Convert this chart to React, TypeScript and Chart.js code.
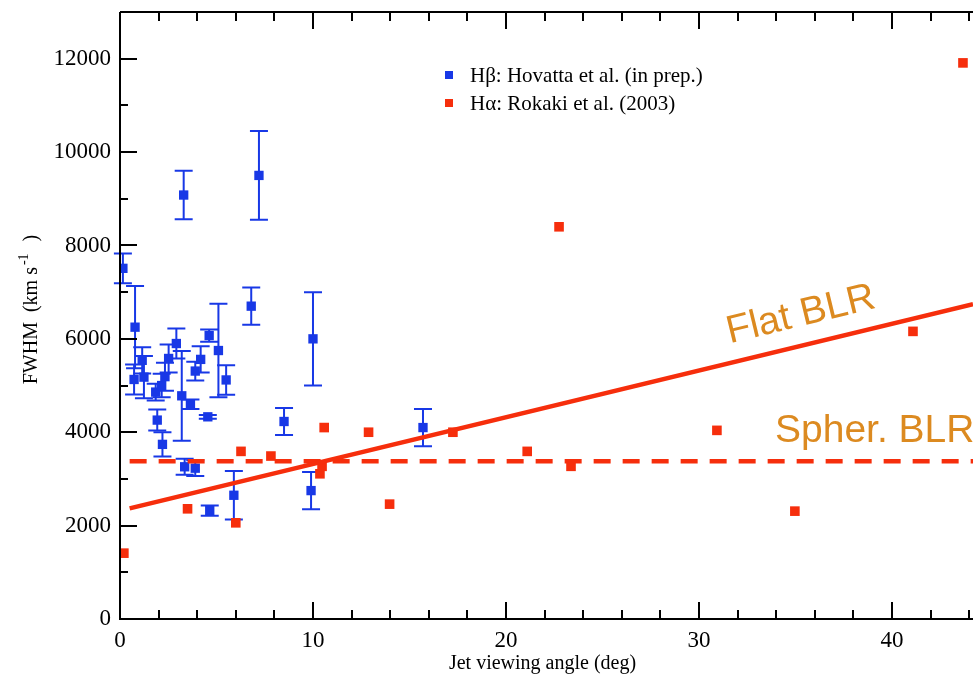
import React, { useEffect, useRef } from "react";
import { Chart, registerables } from "chart.js";

Chart.register(...registerables);

// Hβ (Hovatta et al.) — jet viewing angle (deg), FWHM (km/s), symmetric error
const hbAngle = [0.15, 0.78, 0.73, 1.15, 1.24, 1.85, 2.16, 2.33, 2.52, 2.92, 1.93, 2.2, 3.2, 3.3, 3.35, 3.9, 3.65, 3.9, 4.18, 4.62, 4.55, 5.1, 5.5, 4.65, 5.9, 6.8, 7.2, 8.5, 9.9, 10.0, 15.7];
const hbFwhm = [7510, 6250, 5130, 5540, 5180, 4860, 5000, 5190, 5580, 5900, 4260, 3740, 4780, 9080, 3260, 3230, 4600, 5310, 5560, 6070, 4330, 5750, 5120, 2320, 2650, 6700, 9500, 4230, 2750, 6000, 4100];
const hbErr = [320, 880, 320, 280, 450, 180, 250, 300, 300, 320, 225, 260, 960, 520, 170, 170, 100, 200, 280, 130, 40, 1000, 315, 110, 520, 400, 950, 290, 400, 1000, 400];

// Hα (Rokaki et al. 2003)
const haAngle = [0.2, 3.5, 6.0, 6.27, 7.82, 10.36, 10.47, 10.58, 12.88, 13.97, 17.25, 21.1, 22.75, 23.37, 30.93, 34.97, 41.09, 43.68];
const haFwhm = [1410, 2360, 2060, 3590, 3490, 3110, 3270, 4100, 4000, 2460, 4000, 3590, 8400, 3270, 4040, 2310, 6160, 11910];

// model lines
const flatAngle = [0.5, 44.2];
const flatFwhm = [2370, 6740];
const spherAngle = [0.5, 44.2];
const spherFwhm = [3380, 3380];

const xTicks = [0, 10, 20, 30, 40];
const yTicks = [0, 2000, 4000, 6000, 8000, 10000, 12000];

const legendLabels = ["Hβ: Hovatta et al. (in prep.)", "Hα: Rokaki et al. (2003)"];
const lineLabels = ["Flat BLR", "Spher. BLR"];
const xTitle = "Jet viewing angle (deg)";
const yTitleParts = ["FWHM  (km s", "-1", "  )"];

const BLUE = "#1838e6";
const RED = "#f62e0c";
const ORANGE = "#dc8a20";
const SERIF = "'Liberation Serif', 'Times New Roman', serif";
const SANS = "'Liberation Sans', Arial, sans-serif";

const decor = {
  id: "decor",
  beforeDatasetsDraw(chart: any) {
    const { ctx, scales } = chart;
    const xs = scales.x, ys = scales.y;
    ctx.save();
    ctx.strokeStyle = BLUE;
    ctx.lineWidth = 2;
    hbAngle.forEach((a, i) => {
      const e = hbErr[i];
      if (!e) return;
      const px = xs.getPixelForValue(a);
      const t = ys.getPixelForValue(hbFwhm[i] + e);
      const b = ys.getPixelForValue(hbFwhm[i] - e);
      ctx.beginPath();
      ctx.moveTo(px, t); ctx.lineTo(px, b);
      ctx.moveTo(px - 9, t); ctx.lineTo(px + 9, t);
      ctx.moveTo(px - 9, b); ctx.lineTo(px + 9, b);
      ctx.stroke();
    });
    ctx.restore();
  },
  afterDraw(chart: any) {
    const { ctx, chartArea, scales } = chart;
    const xs = scales.x, ys = scales.y;
    const { left, right, top, bottom } = chartArea;
    ctx.save();
    // frame
    ctx.strokeStyle = "#000";
    ctx.lineWidth = 2;
    ctx.beginPath();
    ctx.moveTo(left, top); ctx.lineTo(left, bottom); ctx.lineTo(right + 2, bottom);
    ctx.moveTo(left, top); ctx.lineTo(right + 2, top);
    ctx.stroke();
    // x ticks (inward, top and bottom)
    ctx.beginPath();
    for (let v = 0; v <= xs.max + 1e-9; v += 2) {
      const px = Math.round(xs.getPixelForValue(v));
      const len = v % 10 === 0 ? 17 : 9;
      ctx.moveTo(px, bottom); ctx.lineTo(px, bottom - len);
      ctx.moveTo(px, top); ctx.lineTo(px, top + len);
    }
    // y ticks
    for (let v = 0; v <= ys.max + 1e-9; v += 1000) {
      const py = Math.round(ys.getPixelForValue(v));
      const len = v % 2000 === 0 ? 17 : 8;
      ctx.moveTo(left, py); ctx.lineTo(left + len, py);
    }
    ctx.stroke();

    // legend
    const lx = left + 329;
    const ly = [top + 63, top + 91];
    const lc = [BLUE, RED];
    ctx.font = `21px ${SERIF}`;
    ctx.textBaseline = "middle";
    ctx.textAlign = "left";
    legendLabels.forEach((lab, i) => {
      ctx.fillStyle = lc[i];
      ctx.fillRect(lx - 4, ly[i] - 4, 8, 8);
      ctx.fillStyle = "#000";
      ctx.fillText(lab, lx + 21, ly[i] + 1);
    });

    // axis titles
    ctx.fillStyle = "#000";
    ctx.font = `20px ${SERIF}`;
    ctx.textAlign = "center";
    ctx.textBaseline = "alphabetic";
    ctx.fillText(xTitle, (left + right) / 2 - 4, 669);

    ctx.save();
    ctx.translate(37, (top + bottom) / 2 - 6);
    ctx.rotate(-Math.PI / 2);
    ctx.font = `20px ${SERIF}`;
    const w0 = ctx.measureText(yTitleParts[0]).width;
    ctx.font = `14px ${SERIF}`;
    const w1 = ctx.measureText(yTitleParts[1]).width;
    ctx.font = `20px ${SERIF}`;
    const w2 = ctx.measureText(yTitleParts[2]).width;
    let x0 = -(w0 + w1 + 4 + w2) / 2;
    ctx.textAlign = "left";
    ctx.fillText(yTitleParts[0], x0, 0);
    x0 += w0 + 2;
    ctx.font = `14px ${SERIF}`;
    ctx.fillText(yTitleParts[1], x0, -9);
    x0 += w1 + 2;
    ctx.font = `20px ${SERIF}`;
    ctx.fillText(yTitleParts[2], x0, 0);
    ctx.restore();

    // model line labels
    const p1x = xs.getPixelForValue(flatAngle[0]);
    const p1y = ys.getPixelForValue(flatFwhm[0]);
    const p2x = xs.getPixelForValue(flatAngle[1]);
    const p2y = ys.getPixelForValue(flatFwhm[1]);
    const ang = Math.atan2(p2y - p1y, p2x - p1x);
    const cx = 808;
    const cy = p1y + (p2y - p1y) * ((cx - p1x) / (p2x - p1x));
    ctx.save();
    ctx.translate(cx + 30 * Math.sin(ang), cy - 30 * Math.cos(ang));
    ctx.rotate(ang);
    ctx.fillStyle = ORANGE;
    ctx.font = `39px ${SANS}`;
    ctx.textAlign = "center";
    ctx.textBaseline = "middle";
    ctx.fillText(lineLabels[0], 0, 0);
    ctx.restore();

    ctx.fillStyle = ORANGE;
    ctx.font = `39px ${SANS}`;
    ctx.textAlign = "left";
    ctx.textBaseline = "middle";
    ctx.fillText(lineLabels[1], 775, ys.getPixelForValue(spherFwhm[0]) - 30);
    ctx.restore();
  },
};

export default function App() {
  const ref = useRef<HTMLCanvasElement | null>(null);
  useEffect(() => {
    if (!ref.current) return;
    const chart = new Chart(ref.current, {
      type: "scatter",
      data: {
        datasets: [
          {
            type: "line",
            label: "Flat BLR",
            data: flatAngle.map((x, i) => ({ x, y: flatFwhm[i] })),
            borderColor: RED,
            borderWidth: 4.5,
            pointRadius: 0,
            showLine: true,
            fill: false,
          } as any,
          {
            type: "line",
            label: "Spher. BLR",
            data: spherAngle.map((x, i) => ({ x, y: spherFwhm[i] })),
            borderColor: RED,
            borderWidth: 4.5,
            borderDash: [17, 12],
            pointRadius: 0,
            showLine: true,
            fill: false,
          } as any,
          {
            label: legendLabels[1],
            data: haAngle.map((x, i) => ({ x, y: haFwhm[i] })),
            pointStyle: "rect",
            pointRadius: 6.8,
            pointBorderWidth: 0,
            backgroundColor: RED,
            borderColor: RED,
          },
          {
            label: legendLabels[0],
            data: hbAngle.map((x, i) => ({ x, y: hbFwhm[i] })),
            pointStyle: "rect",
            pointRadius: 6.6,
            pointBorderWidth: 0,
            backgroundColor: BLUE,
            borderColor: BLUE,
          },
        ],
      },
      options: {
        animation: false,
        responsive: false,
        devicePixelRatio: 1,
        layout: { autoPadding: false, padding: { top: 12, right: 0, left: 0, bottom: 0 } },
        plugins: { legend: { display: false }, tooltip: { enabled: false } },
        scales: {
          x: {
            type: "linear",
            min: 0,
            max: 44.2,
            grid: { display: false, drawTicks: false },
            border: { display: false },
            afterBuildTicks: (s: any) => { s.ticks = xTicks.map((v) => ({ value: v })); },
            afterFit: (s: any) => { s.height = 56; s.paddingLeft = 0; s.paddingRight = 0; },
            ticks: {
              includeBounds: false,
              padding: 8,
              maxRotation: 0,
              color: "#000",
              font: { family: SERIF, size: 23 },
              callback: (v: any) => String(v),
            },
          },
          y: {
            type: "linear",
            min: 0,
            max: 13000,
            grid: { display: false, drawTicks: false },
            border: { display: false },
            afterBuildTicks: (s: any) => { s.ticks = yTicks.map((v) => ({ value: v })); },
            afterFit: (s: any) => { s.width = 120; s.paddingTop = 0; s.paddingBottom = 0; },
            ticks: {
              includeBounds: false,
              padding: 9,
              color: "#000",
              font: { family: SERIF, size: 23 },
              callback: (v: any) => String(v),
            },
          },
        },
      },
      plugins: [decor],
    });
    return () => chart.destroy();
  }, []);
  return (
    <div style={{ position: "fixed", left: 0, top: 0, width: 973, height: 675, background: "#fff", overflow: "hidden" }}>
      <canvas ref={ref} width={973} height={675} style={{ display: "block" }} />
    </div>
  );
}
